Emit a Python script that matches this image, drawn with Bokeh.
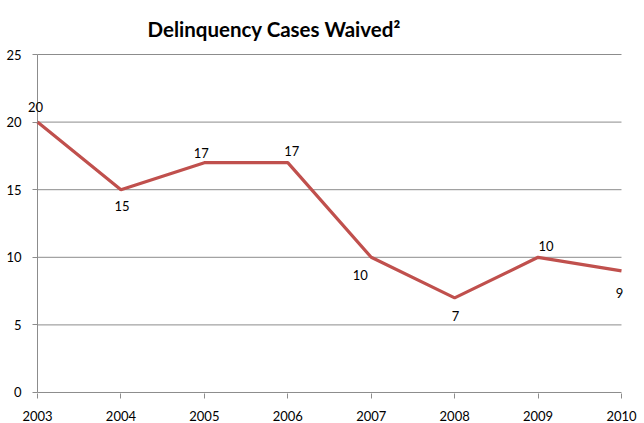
from bokeh.plotting import figure
from bokeh.models import Range1d, FixedTicker, ColumnDataSource, BasicTickFormatter
from bokeh.core.properties import value
from bokeh.embed import file_html
from bokeh.resources import INLINE

# ---- data ----
years = [2003, 2004, 2005, 2006, 2007, 2008, 2009, 2010]
cases = [20, 15, 17, 17, 10, 7, 10, 9]
case_labels = [str(v) for v in cases]
y_ticks = [0, 5, 10, 15, 20, 25]
title_text = "Delinquency Cases Waived\u00b2"

# label placement (screen pixel offsets, style only)
label_dx = [-2, 1, -3, 4, -11, 1, 8, -2]
label_dy = [-15, 16, -10, -12, 18, 18, -11, 22]

FONT = "Lato"
GRID = "#8c8c8c"
LINE = "#C0504D"

# small padding so that edge labels are not clipped by the frame
xpad = 0.12
ypad = 0.074

p = figure(width=644, height=423, output_backend="svg", toolbar_location=None,
           x_range=Range1d(years[0] - xpad, years[-1] + xpad),
           y_range=Range1d(y_ticks[0] - ypad, y_ticks[-1] + ypad),
           min_border_left=27, min_border_right=13, min_border_top=53, min_border_bottom=29)

p.title.text = title_text
p.title.text_font = FONT
p.title.text_font_size = "20.5px"
p.title.text_font_style = "bold"
p.title.text_color = "#000000"
p.title.align = "left"
p.title.offset = 120
p.title.standoff = 26

p.outline_line_color = None
p.background_fill_color = "white"
p.border_fill_color = "white"
p.xgrid.grid_line_color = None
p.ygrid.grid_line_color = None

# gridlines (y=0 doubles as the x axis line) and y axis line
p.segment(x0=[years[0]] * len(y_ticks), x1=[years[-1]] * len(y_ticks),
          y0=y_ticks, y1=y_ticks, line_color=GRID, line_width=1)
p.segment(x0=[years[0]], x1=[years[0]], y0=[y_ticks[0]], y1=[y_ticks[-1]],
          line_color=GRID, line_width=1)

p.xaxis.ticker = FixedTicker(ticks=years)
p.xaxis.formatter = BasicTickFormatter(use_scientific=False)
p.yaxis.ticker = FixedTicker(ticks=y_ticks)

for ax in (p.xaxis, p.yaxis):
    ax.axis_line_color = None
    ax.major_tick_line_color = GRID
    ax.minor_tick_line_color = None
    ax.minor_tick_in = 0
    ax.minor_tick_out = 0
    ax.major_label_text_font = FONT
    ax.major_label_text_font_size = "13px"
    ax.major_label_text_color = "#000000"

p.xaxis.major_tick_in = 0
p.xaxis.major_tick_out = 5
p.xaxis.major_label_standoff = 12

# y ticks sit just left of the y axis line (which is inside the padded frame)
p.yaxis.major_tick_in = 10
p.yaxis.major_tick_out = -5
p.yaxis.major_label_standoff = 6

src = ColumnDataSource(dict(x=years, y=cases, t=case_labels, dx=label_dx, dy=label_dy))
p.line("x", "y", source=src, line_color=LINE, line_width=3.2)
p.text("x", "y", text="t", x_offset="dx", y_offset="dy", source=src,
       text_font=value(FONT), text_font_size="13px", text_color="#000000",
       text_align="center", text_baseline="middle")

open("out.html", "w").write(file_html(p, INLINE))
